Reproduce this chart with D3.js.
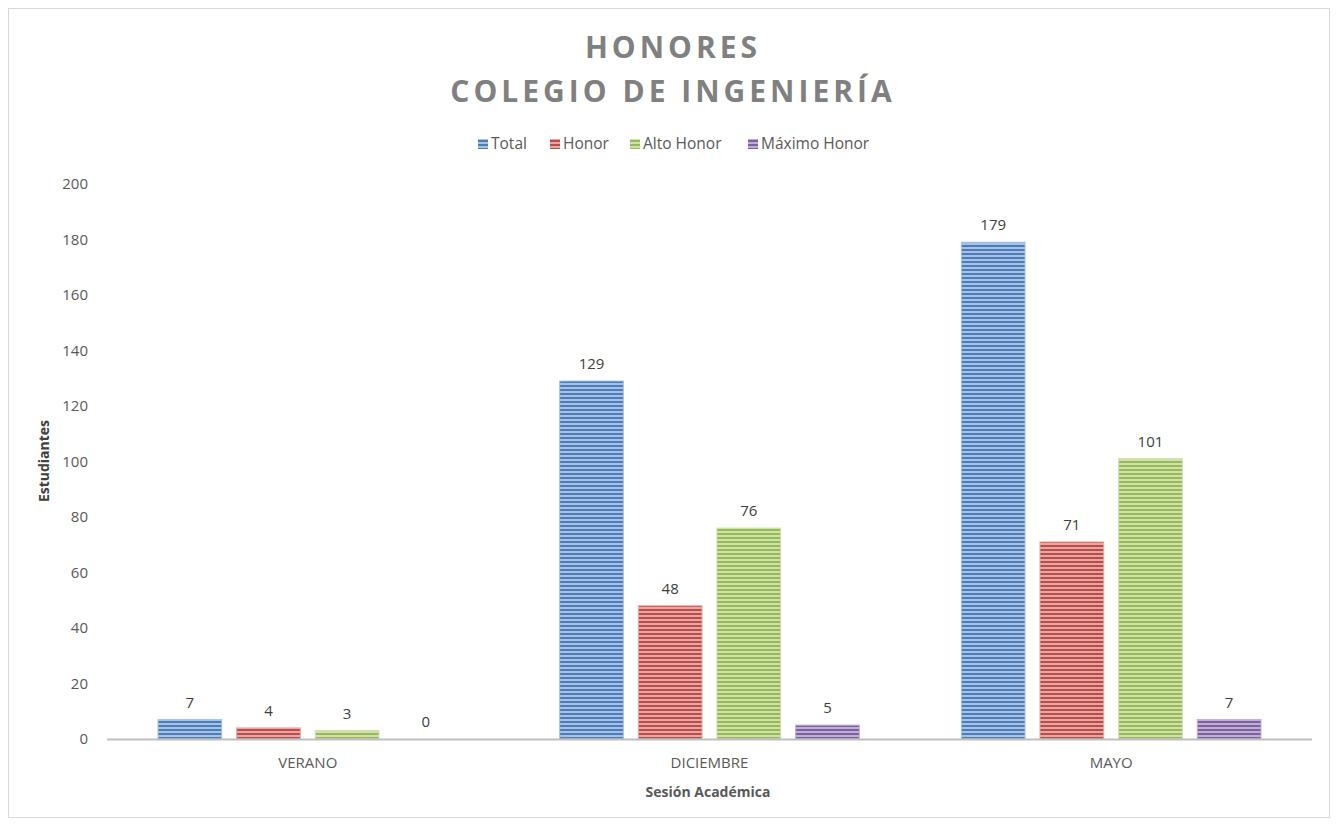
<!DOCTYPE html>
<html>
<head>
<meta charset="utf-8">
<script src="https://cdn.jsdelivr.net/npm/d3@7"></script>
<style>
  body { margin: 0; background: #fff; }
  text { font-family: "Open Sans", "DejaVu Sans", sans-serif; }
</style>
</head>
<body>
<svg id="chart" width="1337" height="825"></svg>
<script>
// Data
var sessions = ["VERANO", "DICIEMBRE", "MAYO"];
var seriesNames = ["Total", "Honor", "Alto Honor", "Máximo Honor"];
var total = [7, 129, 179];
var honor = [4, 48, 71];
var altoHonor = [3, 76, 101];
var maximoHonor = [0, 5, 7];
var yTicks = [0, 20, 40, 60, 80, 100, 120, 140, 160, 180, 200];

var seriesValues = [total, honor, altoHonor, maximoHonor];
var darkColors = ["#4a7ebb", "#be4b48", "#98b954", "#7d60a0"];
var lightColors = ["#a9c1e2", "#e3a9a8", "#cde0ad", "#bfb0d3"];

var svg = d3.select("#chart");

// outer border
svg.append("rect")
  .attr("x", 8.5).attr("y", 8.5)
  .attr("width", 1321).attr("height", 809)
  .attr("fill", "#fff").attr("stroke", "#d9d9d9");

// stripe patterns, one per series
var defs = svg.append("defs");
seriesNames.forEach(function(name, i) {
  var p = defs.append("pattern")
    .attr("id", "stripe" + i)
    .attr("patternUnits", "userSpaceOnUse")
    .attr("width", 8).attr("height", 4);
  p.append("rect").attr("width", 8).attr("height", 4).attr("fill", lightColors[i]);
  p.append("rect").attr("y", 1).attr("width", 8).attr("height", 2).attr("fill", darkColors[i]);
});

var margin = { left: 107, right: 1312, top: 184, bottom: 739 };

var x = d3.scaleBand()
  .domain(sessions)
  .range([margin.left, margin.right])
  .paddingInner(0).paddingOuter(0);

var x1 = d3.scaleBand()
  .domain(seriesNames)
  .range([51, x.bandwidth() - 51])
  .paddingInner(0.19).paddingOuter(0);

var y = d3.scaleLinear()
  .domain([0, 200])
  .range([margin.bottom, margin.top]);

// y tick labels (no gridlines)
svg.append("g").selectAll("text")
  .data(yTicks)
  .enter().append("text")
    .attr("x", 88)
    .attr("y", function(d) { return y(d); })
    .attr("dy", "0.35em")
    .attr("text-anchor", "end")
    .style("font-size", "15px")
    .style("fill", "#595959")
    .text(function(d) { return d; });

// bars
var groups = svg.append("g").selectAll("g")
  .data(sessions)
  .enter().append("g")
    .attr("transform", function(d) { return "translate(" + x(d) + ",0)"; });

groups.selectAll("rect")
  .data(function(d, si) { return seriesNames.map(function(n, k) { return { name: n, k: k, v: seriesValues[k][si] }; }); })
  .enter().append("rect")
    .attr("x", function(d) { return x1(d.name); })
    .attr("y", function(d) { return y(d.v); })
    .attr("width", x1.bandwidth())
    .attr("height", function(d) { return y(0) - y(d.v); })
    .attr("fill", function(d) { return "url(#stripe" + d.k + ")"; })
    .attr("stroke", function(d) { return d.v > 0 ? lightColors[d.k] : "none"; })
    .attr("stroke-width", 1);

groups.selectAll("text")
  .data(function(d, si) { return seriesNames.map(function(n, k) { return { name: n, k: k, v: seriesValues[k][si] }; }); })
  .enter().append("text")
    .attr("x", function(d) { return x1(d.name) + x1.bandwidth() / 2; })
    .attr("y", function(d) { return y(d.v) - 12; })
    .attr("text-anchor", "middle")
    .style("font-size", "15px")
    .style("fill", "#404040")
    .text(function(d) { return d.v; });

// x axis line and labels
svg.append("line")
  .attr("x1", margin.left).attr("x2", margin.right)
  .attr("y1", y(0) + 0.5).attr("y2", y(0) + 0.5)
  .attr("stroke", "#bfbfbf").attr("stroke-width", 2);

svg.append("g").selectAll("text")
  .data(sessions)
  .enter().append("text")
    .attr("x", function(d) { return x(d) + x.bandwidth() / 2; })
    .attr("y", 768)
    .attr("text-anchor", "middle")
    .style("font-size", "15px")
    .style("fill", "#595959")
    .text(function(d) { return d; });

// axis titles
svg.append("text")
  .attr("x", 708).attr("y", 797)
  .attr("text-anchor", "middle")
  .style("font-size", "14px").style("font-weight", "bold")
  .style("fill", "#595959")
  .text("Sesión Académica");

svg.append("text")
  .attr("transform", "translate(49,461) rotate(-90)")
  .attr("text-anchor", "middle")
  .style("font-size", "14px").style("font-weight", "bold")
  .style("fill", "#404040")
  .text("Estudiantes");

// title
var title = svg.append("text")
  .attr("text-anchor", "middle")
  .style("font-size", "30px").style("font-weight", "bold")
  .style("letter-spacing", "4px")
  .style("fill", "#808080");
title.append("tspan").attr("x", 673).attr("y", 58).text("HONORES");
title.append("tspan").attr("x", 673).attr("y", 102).text("COLEGIO DE INGENIERÍA");

// legend
var legendX = [478, 550, 630, 748];
var legend = svg.append("g").selectAll("g")
  .data(seriesNames)
  .enter().append("g")
    .attr("transform", function(d, i) { return "translate(" + legendX[i] + ",139)"; });
legend.append("rect")
  .attr("width", 10).attr("height", 10)
  .attr("fill", function(d, i) { return "url(#stripe" + i + ")"; });
legend.append("text")
  .attr("x", 13).attr("y", 5).attr("dy", "0.35em")
  .style("font-size", "15.5px")
  .style("fill", "#595959")
  .text(function(d) { return d; });
</script>
</body>
</html>
